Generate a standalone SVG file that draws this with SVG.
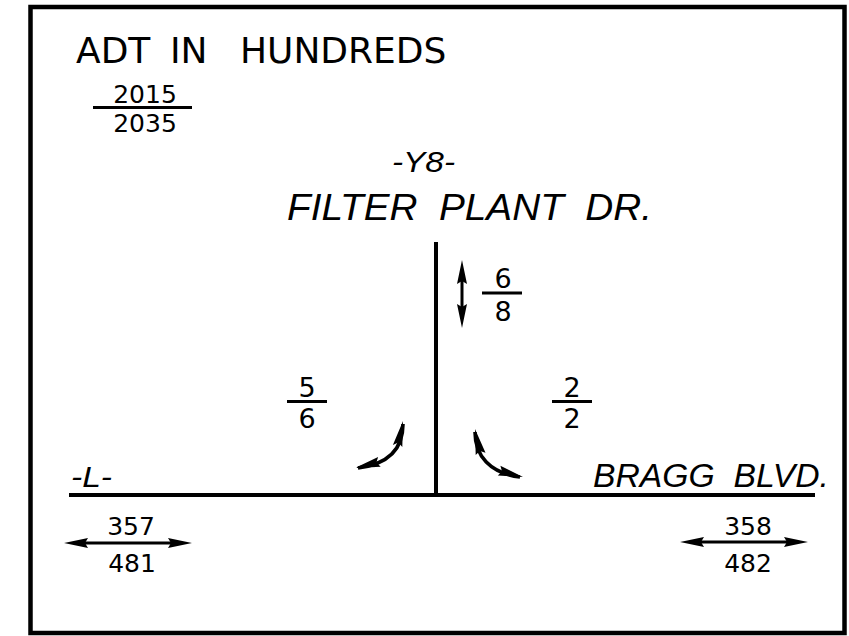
<svg xmlns="http://www.w3.org/2000/svg" width="849" height="636" viewBox="0 0 849 636">
<style>
.up{font-family:"DejaVu Sans","Liberation Sans",sans-serif;fill:#000}
.it{font-family:"Liberation Sans","DejaVu Sans",sans-serif;font-style:italic;fill:#000}
.ln{stroke:#000;fill:none}
.road{stroke-width:4}
.fr{stroke-width:3}
.ar{stroke-width:3}
.cv{stroke-width:3.6}
.c{text-anchor:middle}
</style>
<defs>
<marker id="ah" markerUnits="userSpaceOnUse" viewBox="-26 -7 28 14" markerWidth="28" markerHeight="14" refX="-12" refY="0" orient="auto-start-reverse">
<path d="M0,0 L-24,-5 L-21,0 L-24,5 Z" fill="#000"/>
</marker>
</defs>
<rect x="30.5" y="7" width="814" height="626" fill="#fff" stroke="#000" stroke-width="4.5"/>

<g id="connectors">
<line class="ln road" x1="69" y1="495" x2="815" y2="495"/>
<line class="ln road" x1="436" y1="242" x2="436" y2="495"/>
<line class="ln ar" x1="76" y1="543" x2="180" y2="543" marker-start="url(#ah)" marker-end="url(#ah)"/>
<line class="ln ar" x1="692" y1="542" x2="796" y2="542" marker-start="url(#ah)" marker-end="url(#ah)"/>
<line class="ln ar" x1="462" y1="272" x2="462" y2="316" marker-start="url(#ah)" marker-end="url(#ah)"/>
<g id="left-turn">
<path class="ln cv" d="M403,424 C403,448 389,464 358,468"/>
<polygon points="403,421 402.3,447.0 398.3,442.6 392.9,444.9"/>
<polygon points="355,468 380.7,466.7 376.4,462.6 378.1,457.0"/>
</g>
<g id="right-turn">
<path class="ln cv" d="M475,432 C475,456 490,473 520,477"/>
<polygon points="475,429 485.5,452.7 479.9,450.9 475.7,454.9"/>
<polygon points="523,477 497.8,475.5 502.0,471.5 500.4,465.8"/>
</g>
</g>

<g id="title">
<text class="up" font-size="36" y="63"><tspan x="76">ADT </tspan><tspan x="170">IN </tspan><tspan x="240">HUNDREDS</tspan></text>
</g>

<g id="legend">
<text class="up c" font-size="25" x="145" y="103">2015</text>
<line class="ln fr" x1="93" y1="107.5" x2="192" y2="107.5"/>
<text class="up c" font-size="25" x="145" y="132">2035</text>
</g>

<g id="y8-label">
<text class="it" font-size="29" x="392" y="172" textLength="63" lengthAdjust="spacingAndGlyphs">-Y8-</text>
<text class="it" font-size="37" x="287" y="220" textLength="365" lengthAdjust="spacingAndGlyphs" xml:space="preserve">FILTER  PLANT  DR.</text>
</g>

<g id="l-label">
<text class="it" font-size="30" x="71" y="487" textLength="41" lengthAdjust="spacingAndGlyphs">-L-</text>
</g>

<g id="bragg-label">
<text class="it" font-size="33" x="593" y="487" textLength="236" lengthAdjust="spacingAndGlyphs" xml:space="preserve">BRAGG  BLVD.</text>
</g>

<g id="y8-volume">
<text class="up c" font-size="27" x="503" y="288">6</text>
<line class="ln fr" x1="482" y1="293" x2="522" y2="293"/>
<text class="up c" font-size="27" x="503" y="321">8</text>
</g>

<g id="left-turn-volume">
<text class="up c" font-size="27" x="307" y="397">5</text>
<line class="ln fr" x1="287" y1="401.5" x2="327" y2="401.5"/>
<text class="up c" font-size="27" x="307" y="428">6</text>
</g>

<g id="right-turn-volume">
<text class="up c" font-size="27" x="572" y="397">2</text>
<line class="ln fr" x1="552" y1="401.5" x2="592" y2="401.5"/>
<text class="up c" font-size="27" x="572" y="428">2</text>
</g>

<g id="west-volume">
<text class="up c" font-size="25" x="131" y="535">357</text>
<text class="up c" font-size="25" x="132" y="572">481</text>
</g>

<g id="east-volume">
<text class="up c" font-size="25" x="748" y="535">358</text>
<text class="up c" font-size="25" x="748" y="572">482</text>
</g>
</svg>
